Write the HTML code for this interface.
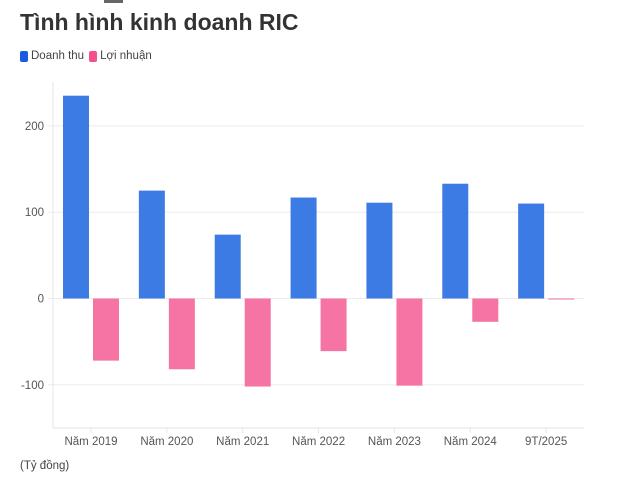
<!DOCTYPE html>
<html><head><meta charset="utf-8"><style>
body{margin:0;background:#fff;font-family:"Liberation Sans",sans-serif;}
#wrap{position:relative;width:618px;height:489px;overflow:hidden}
</style></head><body>
<div id="wrap">
<div style="position:absolute;left:104px;top:0;width:19px;height:3px;background:#666"></div>
<div style="position:absolute;left:20px;top:9px;font-size:23px;font-weight:bold;color:#333">Tình hình kinh doanh RIC</div>
<div style="position:absolute;left:20px;top:50px;font-size:11.5px;color:#444;display:flex;align-items:center">
 <span style="display:flex;align-items:center"><span style="width:8px;height:11px;border-radius:2px;background:#1a5ce0;display:inline-block;margin-right:3px"></span>Doanh thu</span>
 <span style="display:flex;align-items:center;margin-left:5px"><span style="width:8px;height:11px;border-radius:2px;background:#f5508e;display:inline-block;margin-right:3px"></span>Lợi nhuận</span>
</div>
<svg id="chart" width="618" height="489" style="position:absolute;left:0;top:0"></svg>
<div style="position:absolute;left:20px;top:460px;font-size:11.5px;color:#444">(Tỷ đồng)</div>
</div>
<script>
const categories=["Năm 2019","Năm 2020","Năm 2021","Năm 2022","Năm 2023","Năm 2024","9T/2025"];
const revenue=[235,125,74,117,111,133,110];
const profit=[-72,-82,-102,-61,-101,-27,-1];
const yTicks=[200,100,0,-100];
const svg=document.getElementById('chart');
const NS='http://www.w3.org/2000/svg';
const x0=53,x1=584,yTop=82,yBot=428;
const y=v=>298.5-v*0.863;
const band=(x1-x0)/categories.length;
const cx=i=>x0+38+i*band;
function mk(t,a){const e=document.createElementNS(NS,t);for(const k in a)e.setAttribute(k,a[k]);svg.appendChild(e);return e;}
yTicks.forEach(t=>{
 const g=mk('line',{x1:x0-5,x2:x1,y1:y(t),y2:y(t),stroke:'#ebebeb','stroke-width':1});
 
 
 const l=mk('text',{x:44,y:y(t)+4,'text-anchor':'end','font-size':11.5,fill:'#555','font-family':'Liberation Sans, sans-serif'});
 l.textContent=t;
 
 
});
const ax=mk('line',{x1:x0,x2:x0,y1:yTop,y2:yBot,stroke:'#e6e6e6'});


const bx=mk('line',{x1:x0,x2:x1,y1:yBot,y2:yBot,stroke:'#e6e6e6'});


categories.forEach((c,i)=>{
 const tk=mk('line',{x1:cx(i),x2:cx(i),y1:yBot,y2:yBot+5,stroke:'#e6e6e6'});
 
 
 const l=mk('text',{x:cx(i),y:445,'text-anchor':'middle','font-size':11.5,fill:'#555','font-family':'Liberation Sans, sans-serif'});
 l.textContent=c;
 
 
 const r=revenue[i];
 const b=mk('rect',{x:cx(i)-28,y:Math.min(y(r),y(0)),width:26,height:Math.max(1,Math.abs(y(r)-y(0))),fill:'#3c7ae4'});
 
 
 const p=profit[i];
 const b2=mk('rect',{x:cx(i)+2,y:Math.min(y(p),y(0)),width:26,height:Math.max(1,Math.abs(y(p)-y(0))),fill:'#f674a4'});
 
 
});
</script>
</body></html>
